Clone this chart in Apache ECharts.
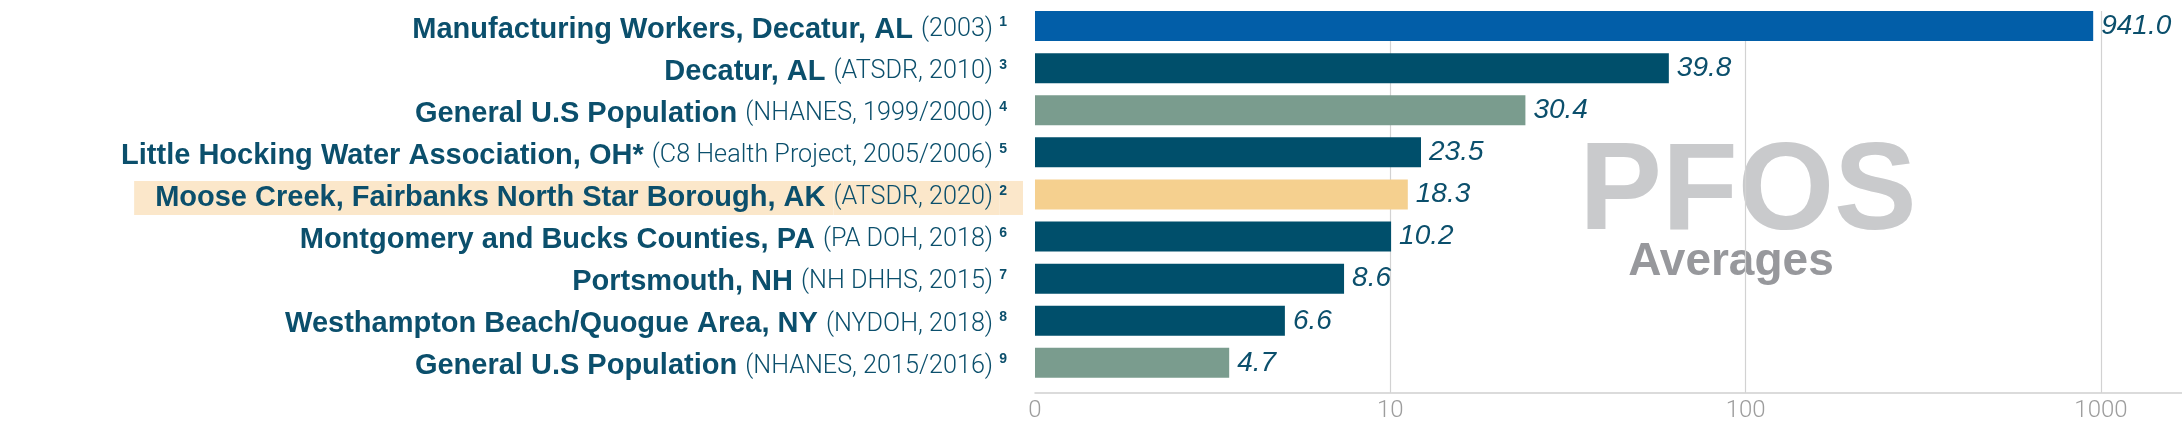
<!DOCTYPE html>
<html><head><meta charset="utf-8">
<script src="https://cdn.jsdelivr.net/npm/echarts@6/dist/echarts.min.js"></script>
<style>html,body{margin:0;padding:0;background:#fff}#c{width:2182px;height:430px}</style>
</head><body><div id="c"></div>
<script>
// ---- data ----
const names = ['Manufacturing Workers, Decatur, AL', 'Decatur, AL', 'General U.S Population',
  'Little Hocking Water Association, OH*', 'Moose Creek, Fairbanks North Star Borough, AK',
  'Montgomery and Bucks Counties, PA', 'Portsmouth, NH', 'Westhampton Beach/Quogue Area, NY',
  'General U.S Population'];
const sources = ['(2003)', '(ATSDR, 2010)', '(NHANES, 1999/2000)', '(C8 Health Project, 2005/2006)',
  '(ATSDR, 2020)', '(PA DOH, 2018)', '(NH DHHS, 2015)', '(NYDOH, 2018)', '(NHANES, 2015/2016)'];
const refs = ['1', '3', '4', '5', '2', '6', '7', '8', '9'];
// values printed next to bars
const shownValues = [941.0, 39.8, 30.4, 23.5, 18.3, 10.2, 8.6, 6.6, 4.7];
const barValues = [951, 60.8, 24.0, 12.2, 11.2, 10.05, 7.41, 5.05, 3.52];
const groups = ['workers', 'community', 'national', 'community', 'focus', 'community', 'community', 'community', 'national'];
const tickValues = [1, 10, 100, 1000];
const tickLabels = ['0', '10', '100', '1000'];
const watermark = ['PFOS', 'Averages'];

// ---- styles ----
const groupColors = { workers: '#025EA8', community: '#004F6B', national: '#7A9C8E', focus: '#F5D08F' };
const textColor = '#0B4F6C';
const bandColor = '#FBE7CA';

function hasFont(f) {
  const c = document.createElement('canvas').getContext('2d');
  const s = 'abcdefghijklmnopq (2003) WMW';
  c.font = '40px monospace'; const a = c.measureText(s).width;
  c.font = '40px "' + f + '", monospace'; const b = c.measureText(s).width;
  return a !== b;
}
const lightFont = hasFont('Liberation Sans Narrow')
  ? { fontFamily: '"Liberation Sans Narrow"', fontSize: 27, fontWeight: 400 }
  : { fontFamily: 'Roboto', fontSize: 25.2, fontWeight: 300 };

const bStyle = { fontFamily: '"Liberation Sans", Arial, sans-serif', fontWeight: 'bold', fontSize: 29, color: textColor, height: 34 };
const nStyle = Object.assign({ color: textColor, height: 34 }, lightFont);
const sStyle = { fontFamily: '"Liberation Sans", Arial, sans-serif', fontWeight: 'bold', fontSize: 14, color: textColor, height: 20, padding: [0, 16, 14, 0] };

const rich = {
  b: bStyle, n: nStyle, s: sStyle,
  hb: Object.assign({}, bStyle, { backgroundColor: bandColor, padding: [0, 0, 0, 21] }),
  hn: Object.assign({}, nStyle, { backgroundColor: bandColor }),
  hs: Object.assign({}, sStyle, { backgroundColor: bandColor })
};

const chart = echarts.init(document.getElementById('c'), null, { renderer: 'canvas' });
const logMin = 1, logMax = 1691;
const x0 = 1035;

chart.setOption({
  animation: false,
  backgroundColor: '#ffffff',
  grid: [
    { left: x0, right: 0, top: 5, height: 378.9, outerBoundsMode: 'none', containLabel: false },
    { left: x0, right: 0, top: 11, bottom: 37.3, outerBoundsMode: 'none', containLabel: false }
  ],
  graphic: [
    { type: 'text', x: 1748, y: 195, z: -10, silent: true,
      style: { text: watermark[0], fill: '#C9CACC', fontSize: 124, fontWeight: 'bold',
        fontFamily: '"Liberation Sans", Arial, sans-serif', align: 'center', verticalAlign: 'middle',
        textAlign: 'center', textVerticalAlign: 'middle' } },
    { type: 'text', x: 1731, y: 262, z: -10, silent: true,
      style: { text: watermark[1], fill: '#97989C', fontSize: 46, fontWeight: 'bold',
        fontFamily: '"Liberation Sans", Arial, sans-serif', align: 'center', verticalAlign: 'middle',
        textAlign: 'center', textVerticalAlign: 'middle' } }
  ],
  xAxis: [
    { type: 'log', gridIndex: 0, min: logMin, max: logMax, show: false },
    { type: 'log', gridIndex: 1, min: logMin, max: logMax,
      axisLine: { show: true, lineStyle: { color: '#CFCFCF', width: 1.5 } },
      axisTick: { show: false },
      splitLine: { show: true, showMinLine: false, showMaxLine: false, lineStyle: { color: '#D2D2D2', width: 1.2 } },
      axisLabel: {
        show: true, margin: 6, showMaxLabel: false, showMinLabel: true,
        color: '#9D9D9D', fontSize: 24, fontFamily: 'Roboto', fontWeight: 300,
        formatter: function (v) {
          for (let i = 0; i < tickValues.length; i++) {
            if (Math.abs(v - tickValues[i]) < 1e-6 * tickValues[i]) return tickLabels[i];
          }
          return '';
        }
      }
    }
  ],
  yAxis: [
    { type: 'category', gridIndex: 0, inverse: true, data: names,
      axisLine: { show: false }, axisTick: { show: false }, splitLine: { show: false },
      axisLabel: {
        show: true, interval: 0, margin: 12, padding: [7, 0, 0, 0], rich: rich,
        hideOverlap: false,
        formatter: function (v, i) {
          const h = groups[i] === 'focus' ? 'h' : '';
          return '{' + h + 'b|' + names[i] + ' }{' + h + 'n|' + sources[i] + ' }{' + h + 's|' + refs[i] + '}';
        }
      }
    },
    { type: 'value', gridIndex: 1, show: false }
  ],
  series: [{
    type: 'bar', xAxisIndex: 0, yAxisIndex: 0, barWidth: 30,
    data: barValues.map(function (v, i) { return { value: v, itemStyle: { color: groupColors[groups[i]] } }; }),
    label: {
      show: true, position: 'right', distance: 8,
      formatter: function (p) { return shownValues[p.dataIndex].toFixed(1); },
      color: textColor, fontStyle: 'italic', fontSize: 28,
      fontFamily: '"Liberation Sans", Arial, sans-serif'
    }
  }]
});
</script>
</body></html>
